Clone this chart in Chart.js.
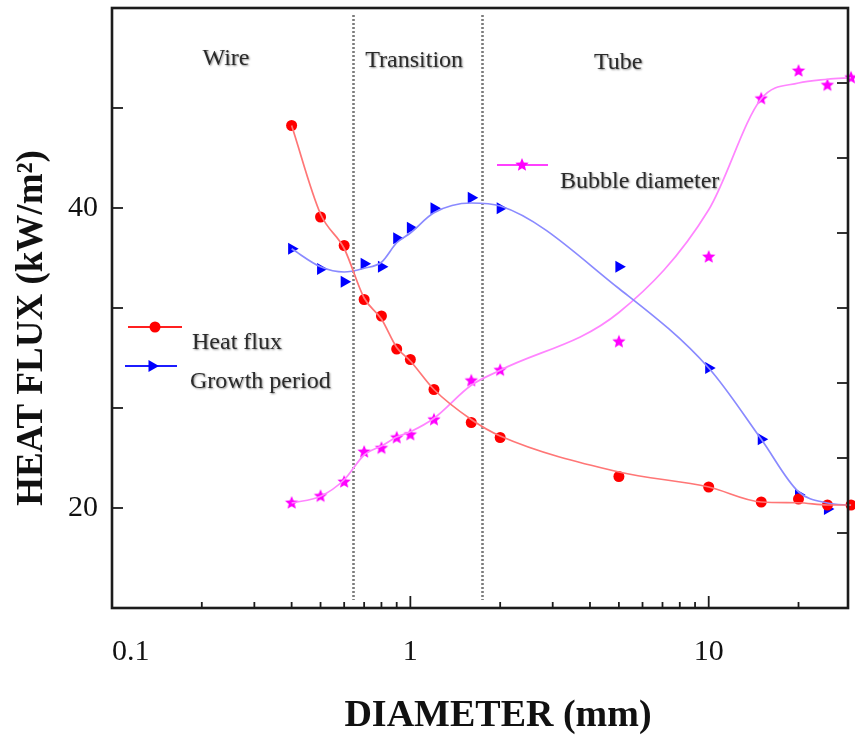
<!DOCTYPE html>
<html>
<head>
<meta charset="utf-8">
<script src="https://cdn.jsdelivr.net/npm/chart.js@4.4.1/dist/chart.umd.min.js"></script>
<style>
  html, body { margin: 0; padding: 0; background: #fff; }
  #wrap { width: 855px; height: 735px; }
</style>
</head>
<body>
<div id="wrap"><canvas id="chart" width="855" height="735"></canvas></div>
<script>
// tube / wire diameter, mm
const diameters = [0.4, 0.5, 0.6, 0.7, 0.8, 0.9, 1, 1.2, 1.6, 2, 5, 10, 15, 20, 25, 30]

// measured points
const heatFlux = [45.5, 39.4, 37.5, 33.9, 32.8, 30.6, 29.9, 27.9, 25.7, 24.7, 22.1, 21.4, 20.4, 20.6, 20.2, 20.2]
const growthPeriod = [4.79, 4.52, 4.35, 4.59, 4.55, 4.93, 5.07, 5.33, 5.47, 5.33, 4.55, 3.2, 2.25, 1.51, 1.32, 1.37]
const bubbleDiameter = [1.4, 1.49, 1.68, 2.08, 2.13, 2.27, 2.31, 2.51, 3.03, 3.17, 3.55, 4.68, 6.79, 7.16, 6.97, 7.07]

// fitted curves as drawn (read at the same diameters)
const heatFluxFit = [45.5, 39.6, 37.3, 34.0, 32.6, 30.7, 29.8, 27.9, 25.9, 24.8, 22.4, 21.4, 20.4, 20.35, 20.2, 20.2]
const growthPeriodFit = [4.79, 4.55, 4.48, 4.53, 4.61, 4.87, 5.0, 5.27, 5.4, 5.36, 4.26, 3.2, 2.25, 1.55, 1.4, 1.37]
const bubbleDiameterFit = [1.4, 1.49, 1.71, 2.04, 2.16, 2.28, 2.35, 2.53, 2.97, 3.17, 3.94, 5.31, 6.79, 7.0, 7.05, 7.07]

// regime boundaries, mm
const boundaries = [0.64, 1.74]
const regions = ['Wire', 'Transition', 'Tube']
const regionCenters = [0.241, 1.03, 4.97]

const xTickValues = [0.1, 0.2, 0.3, 0.4, 0.5, 0.6, 0.7, 0.8, 0.9, 1, 2, 3, 4, 5, 6, 7, 8, 9, 10, 20]
const xTickLabels = { 0.1: '0.1', 1: '1', 10: '10' }
const yTickValues = [13.333, 20, 26.667, 33.333, 40, 46.667, 53.333]
const yTickLabels = [20, 40]
const y2TickValues = [0, 1, 2, 3, 4, 5, 6, 7, 8]

const SERIF = "'Liberation Serif', 'DejaVu Serif', serif"
const X_MAX = 29.3

function starImage(color, r) {
  const c = document.createElement('canvas')
  const s = Math.ceil(r * 2 + 2)
  c.width = s
  c.height = s
  const g = c.getContext('2d')
  g.fillStyle = color
  g.beginPath()
  for (let i = 0; i < 10; i++) {
    const rad = i % 2 ? r * 0.45 : r
    const a = -Math.PI / 2 + i * Math.PI / 5
    const px = s / 2 + rad * Math.cos(a)
    const py = s / 2 + rad * Math.sin(a)
    if (i) g.lineTo(px, py)
    else g.moveTo(px, py)
  }
  g.closePath()
  g.fill()
  return c
}

const star = starImage('#ff00ff', 7)

const toPoints = (ys) => diameters.map((x, i) => ({ x, y: ys[i] }))

function fitLine(ys, color, axis) {
  return {
    data: toPoints(ys),
    yAxisID: axis,
    showLine: true,
    borderColor: color,
    borderWidth: 1.7,
    pointRadius: 0,
    cubicInterpolationMode: 'monotone',
    clip: false,
  }
}

function markers(ys, axis, style, color, radius, rotation) {
  return {
    data: toPoints(ys),
    yAxisID: axis,
    showLine: false,
    pointStyle: style,
    pointRotation: rotation || 0,
    pointRadius: radius,
    pointBackgroundColor: color,
    pointBorderWidth: 0,
    borderWidth: 0,
    clip: false,
  }
}

function noPadding(scale) {
  scale.paddingTop = 0
  scale.paddingBottom = 0
  scale.paddingLeft = 0
  scale.paddingRight = 0
}

function shadowText(ctx, text, x, y) {
  ctx.save()
  ctx.shadowColor = 'rgba(0,0,0,0.45)'
  ctx.shadowBlur = 2
  ctx.shadowOffsetX = 1
  ctx.shadowOffsetY = 1
  ctx.fillStyle = '#2b2b2b'
  ctx.fillText(text, x, y)
  ctx.restore()
}

const decorations = {
  id: 'decorations',
  beforeDatasetsDraw(chart) {
    const { ctx, chartArea } = chart
    const xs = chart.scales.x
    ctx.save()
    ctx.strokeStyle = '#7c7c7c'
    ctx.lineWidth = 2.6
    ctx.setLineDash([2, 2])
    for (const b of boundaries) {
      const px = Math.round(xs.getPixelForValue(b)) + 0.5
      ctx.beginPath()
      ctx.moveTo(px, chartArea.top + 7)
      ctx.lineTo(px, chartArea.bottom - 8)
      ctx.stroke()
    }
    ctx.restore()
  },
  afterDatasetsDraw(chart) {
    const { ctx, chartArea } = chart
    const { left, right, top, bottom } = chartArea
    const xs = chart.scales.x
    const ys = chart.scales.y
    const y2 = chart.scales.y2
    ctx.save()
    ctx.strokeStyle = '#1c1c1c'
    ctx.lineWidth = 1.8
    // inward ticks
    for (const v of xTickValues) {
      if (v === 0.1) continue
      const px = xs.getPixelForValue(v)
      const len = (v === 1 || v === 10) ? 12 : 6
      ctx.beginPath()
      ctx.moveTo(px, bottom)
      ctx.lineTo(px, bottom - len)
      ctx.stroke()
    }
    for (const v of yTickValues.slice(1, -1)) {
      const py = ys.getPixelForValue(v)
      ctx.beginPath()
      ctx.moveTo(left, py)
      ctx.lineTo(left + 11, py)
      ctx.stroke()
    }
    for (const v of y2TickValues.slice(1, -1)) {
      const py = y2.getPixelForValue(v)
      ctx.beginPath()
      ctx.moveTo(right, py)
      ctx.lineTo(right - 11, py)
      ctx.stroke()
    }
    // frame
    ctx.lineWidth = 2.6
    ctx.strokeRect(left, top, right - left, bottom - top)
    ctx.restore()
  },
  afterDraw(chart) {
    const { ctx } = chart
    const xs = chart.scales.x
    ctx.save()
    ctx.textBaseline = 'middle'
    ctx.textAlign = 'center'
    ctx.font = `24px ${SERIF}`
    const regionY = [59, 61, 63]
    regions.forEach((t, i) => shadowText(ctx, t, xs.getPixelForValue(regionCenters[i]), regionY[i]))

    // legend
    const legend = [
      { label: 'Heat flux', color: '#ff2020', line: [128, 182, 327], mark: 155, text: [192, 343], style: 'circle', r: 5.5, rot: 0 },
      { label: 'Growth period', color: '#1c1cff', line: [125, 177, 366], mark: 152, text: [190, 382], style: 'triangle', r: 7, rot: 90 },
      { label: 'Bubble diameter', color: '#ff40ff', line: [497, 548, 165], mark: 522, text: [560, 182], style: star, r: 7, rot: 0 },
    ]
    ctx.textAlign = 'left'
    for (const item of legend) {
      ctx.strokeStyle = item.color
      ctx.lineWidth = 1.8
      ctx.beginPath()
      ctx.moveTo(item.line[0], item.line[2])
      ctx.lineTo(item.line[1], item.line[2])
      ctx.stroke()
      ctx.fillStyle = item.style === 'circle' ? '#ff0000' : item.style === 'triangle' ? '#0000ff' : '#ff00ff'
      Chart.helpers.drawPoint(ctx, { pointStyle: item.style, radius: item.r, rotation: item.rot, borderWidth: 0 }, item.mark, item.line[2])
      shadowText(ctx, item.label, item.text[0], item.text[1])
    }

    // axis titles
    ctx.fillStyle = '#111'
    ctx.font = `bold 38px ${SERIF}`
    ctx.textAlign = 'center'
    ctx.textBaseline = 'alphabetic'
    ctx.fillText('DIAMETER (mm)', 498, 726)
    ctx.font = `bold 37px ${SERIF}`
    ctx.translate(42, 328)
    ctx.rotate(-Math.PI / 2)
    ctx.fillText('HEAT FLUX (kW/m²)', 0, 0)
    ctx.restore()
  },
}

new Chart(document.getElementById('chart'), {
  type: 'scatter',
  data: {
    datasets: [
      fitLine(heatFluxFit, '#ff7676', 'y'),
      fitLine(growthPeriodFit, '#8a8aff', 'y2'),
      fitLine(bubbleDiameterFit, '#ff85ff', 'y2'),
      markers(heatFlux, 'y', 'circle', '#ff0000', 5.5),
      markers(growthPeriod, 'y2', 'triangle', '#0000ff', 7, 90),
      markers(bubbleDiameter, 'y2', star, '#ff00ff', 7),
    ],
  },
  options: {
    responsive: false,
    animation: false,
    layout: { padding: { top: 8, left: 0, right: 0, bottom: 0 } },
    plugins: { legend: { display: false }, tooltip: { enabled: false } },
    scales: {
      x: {
        type: 'logarithmic',
        position: 'bottom',
        min: 0.1,
        max: X_MAX,
        grid: { display: false, drawTicks: false },
        border: { display: false },
        afterBuildTicks: (scale) => {
          scale.ticks = xTickValues.concat([X_MAX]).map((value) => ({ value }))
        },
        afterFit: (scale) => { scale.height = 127; noPadding(scale) },
        ticks: {
          autoSkip: false,
          maxRotation: 0,
          align: 'inner',
          padding: 26,
          color: '#111',
          font: { family: SERIF, size: 30 },
          callback: (v) => xTickLabels[v] || '',
        },
      },
      y: {
        type: 'linear',
        position: 'left',
        min: yTickValues[0],
        max: yTickValues[yTickValues.length - 1],
        grid: { display: false, drawTicks: false },
        border: { display: false },
        afterBuildTicks: (scale) => {
          scale.ticks = yTickValues.map((value) => ({ value }))
        },
        afterFit: (scale) => { scale.width = 112; noPadding(scale) },
        ticks: {
          padding: 14,
          color: '#111',
          font: { family: SERIF, size: 30 },
          callback: (v) => {
            const hit = yTickLabels.find((t) => Math.abs(t - v) < 0.01)
            return hit ? String(hit) : ''
          },
        },
      },
      y2: {
        type: 'linear',
        position: 'right',
        min: y2TickValues[0],
        max: y2TickValues[y2TickValues.length - 1],
        grid: { display: false, drawTicks: false },
        border: { display: false },
        afterBuildTicks: (scale) => {
          scale.ticks = y2TickValues.map((value) => ({ value }))
        },
        afterFit: (scale) => { scale.width = 3; noPadding(scale) },
        ticks: { display: false },
      },
    },
  },
  plugins: [decorations],
})
</script>
</body>
</html>
